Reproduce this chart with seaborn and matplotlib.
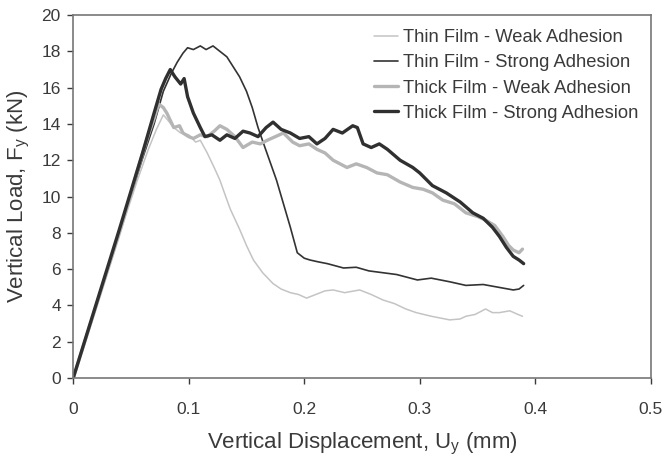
import pandas as pd
import matplotlib.pyplot as plt
import seaborn as sns

# Thin Film - Weak Adhesion
thin_weak_u = [0, 0.02, 0.04, 0.055, 0.065, 0.072, 0.078, 0.082, 0.087, 0.093, 0.1, 0.106, 0.11,
               0.116, 0.122, 0.127, 0.132, 0.136, 0.144, 0.15, 0.156, 0.164, 0.173, 0.18, 0.188,
               0.195, 0.202, 0.21, 0.218, 0.225, 0.235, 0.248, 0.258, 0.268, 0.278, 0.288, 0.297,
               0.31, 0.326, 0.335, 0.34, 0.348, 0.357, 0.363, 0.369, 0.378, 0.385, 0.389]
thin_weak_f = [0, 3.9, 7.9, 10.8, 12.6, 13.7, 14.5, 14.2, 13.8, 13.5, 13.4, 13.0, 13.1,
               12.4, 11.6, 10.9, 10.0, 9.3, 8.2, 7.3, 6.5, 5.8, 5.2, 4.9, 4.7,
               4.6, 4.4, 4.6, 4.8, 4.85, 4.7, 4.85, 4.6, 4.3, 4.1, 3.8, 3.6,
               3.4, 3.2, 3.25, 3.4, 3.5, 3.8, 3.6, 3.6, 3.7, 3.5, 3.4]

# Thin Film - Strong Adhesion
thin_strong_u = [0, 0.02, 0.04, 0.06, 0.07, 0.078, 0.085, 0.09, 0.095, 0.099, 0.104, 0.11, 0.115,
                 0.121, 0.127, 0.133, 0.138, 0.144, 0.15, 0.155, 0.16, 0.166, 0.171, 0.176, 0.182,
                 0.188, 0.194, 0.2, 0.205, 0.212, 0.22, 0.234, 0.245, 0.256, 0.268, 0.28, 0.298,
                 0.31, 0.326, 0.34, 0.355, 0.368, 0.381, 0.386, 0.39]
thin_strong_f = [0, 4.1, 8.1, 12.1, 14.0, 15.8, 16.8, 17.4, 17.9, 18.2, 18.1, 18.3, 18.1,
                 18.3, 18.0, 17.7, 17.2, 16.6, 15.8, 14.9, 13.8, 12.7, 11.8, 10.9, 9.6,
                 8.3, 6.9, 6.6, 6.5, 6.4, 6.3, 6.06, 6.1, 5.9, 5.8, 5.7, 5.4,
                 5.5, 5.3, 5.1, 5.15, 5.0, 4.85, 4.9, 5.1]

# Thick Film - Weak Adhesion
thick_weak_u = [0, 0.02, 0.04, 0.055, 0.065, 0.07, 0.074, 0.078, 0.081, 0.087, 0.092, 0.095, 0.1,
                0.104, 0.11, 0.116, 0.122, 0.127, 0.133, 0.14, 0.147, 0.155, 0.162, 0.168, 0.175,
                0.182, 0.19, 0.196, 0.204, 0.211, 0.218, 0.225, 0.237, 0.245, 0.254, 0.263, 0.272,
                0.283, 0.294, 0.303, 0.311, 0.32, 0.33, 0.34, 0.35, 0.357, 0.365, 0.372, 0.377,
                0.381, 0.386, 0.389]
thick_weak_f = [0, 4.0, 8.0, 11.3, 13.4, 14.3, 15.1, 14.9, 14.6, 13.8, 13.9, 13.5, 13.3,
                13.2, 13.4, 13.3, 13.6, 13.9, 13.7, 13.3, 12.7, 13.0, 12.9, 13.1, 13.3,
                13.5, 13.0, 12.8, 12.9, 12.6, 12.4, 12.0, 11.6, 11.8, 11.6, 11.3, 11.2,
                10.8, 10.5, 10.4, 10.2, 9.8, 9.6, 9.1, 8.9, 8.7, 8.4, 7.8, 7.3,
                7.05, 6.9, 7.1]

# Thick Film - Strong Adhesion
thick_strong_u = [0, 0.02, 0.04, 0.06, 0.07, 0.076, 0.08, 0.084, 0.088, 0.093, 0.096, 0.099, 0.104,
                  0.11, 0.114, 0.12, 0.127, 0.133, 0.14, 0.147, 0.153, 0.16, 0.167, 0.173, 0.18,
                  0.188, 0.196, 0.204, 0.211, 0.218, 0.225, 0.233, 0.242, 0.246, 0.251, 0.258,
                  0.265, 0.272, 0.283, 0.294, 0.3, 0.311, 0.323, 0.335, 0.346, 0.355, 0.363,
                  0.369, 0.375, 0.381, 0.386, 0.39]
thick_strong_f = [0, 4.1, 8.2, 12.4, 14.6, 15.9, 16.5, 17.0, 16.6, 16.2, 16.5, 15.5, 14.6,
                  13.8, 13.3, 13.4, 13.1, 13.4, 13.2, 13.6, 13.5, 13.3, 13.8, 14.1, 13.7,
                  13.5, 13.2, 13.3, 12.9, 13.2, 13.7, 13.5, 13.9, 13.8, 12.9, 12.7,
                  12.9, 12.6, 12.0, 11.6, 11.3, 10.6, 10.2, 9.7, 9.1, 8.8, 8.3,
                  7.8, 7.2, 6.7, 6.5, 6.3]

sns.set_style("ticks")
plt.rcParams['font.family'] = ['Liberation Sans', 'DejaVu Sans']

fig = plt.figure(figsize=(6.66, 4.57), dpi=100)
ax = fig.add_axes([0.110, 0.173, 0.867, 0.794])

series = [
    ("Thin Film - Weak Adhesion", thin_weak_u, thin_weak_f, "#c4c4c4", 1.1),
    ("Thin Film - Strong Adhesion", thin_strong_u, thin_strong_f, "#333333", 1.2),
    ("Thick Film - Weak Adhesion", thick_weak_u, thick_weak_f, "#b5b5b5", 2.4),
    ("Thick Film - Strong Adhesion", thick_strong_u, thick_strong_f, "#303030", 2.4),
]
for name, u, f, color, lw in series:
    df = pd.DataFrame({"u": u, "f": f})
    sns.lineplot(data=df, x="u", y="f", sort=False, estimator=None,
                 color=color, linewidth=lw, label=name, ax=ax)

ax.set_xlim(0, 0.5)
ax.set_ylim(0, 20)
ax.set_xticks([0, 0.1, 0.2, 0.3, 0.4, 0.5])
ax.set_xticklabels(["0", "0.1", "0.2", "0.3", "0.4", "0.5"])
ax.set_yticks(range(0, 21, 2))
ax.tick_params(labelsize=12.5, colors="#3a3a3a", length=4, width=1)
ax.tick_params(axis="x", pad=13)
ax.tick_params(axis="y", pad=5)
for sp in ax.spines.values():
    sp.set_color("#777777")
    sp.set_linewidth(1.2)

ax.set_xlabel(r"Vertical Displacement, U$_\mathregular{y}$ (mm)", fontsize=16, color="#3a3a3a", labelpad=10)
ax.set_ylabel(r"Vertical Load, F$_\mathregular{y}$ (kN)", fontsize=16, color="#3a3a3a", labelpad=7)

leg = ax.legend(loc="upper right", bbox_to_anchor=(1 - 12 / 578, 1 - 14 / 363), frameon=False,
                fontsize=13.2, handlelength=1.35, handletextpad=0.27, labelspacing=0.45,
                borderaxespad=0, borderpad=0)
for t in leg.get_texts():
    t.set_color("#3a3a3a")

plt.savefig("out.png", dpi=100)
